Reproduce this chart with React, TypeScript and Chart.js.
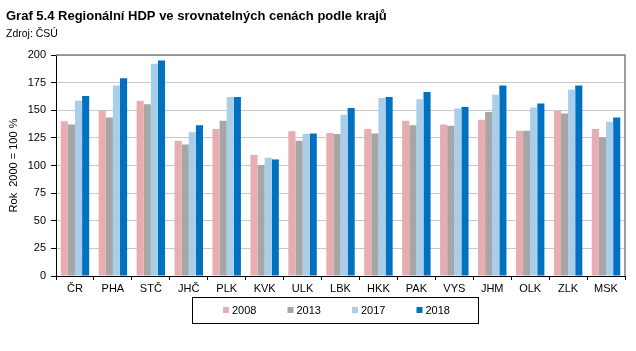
import React, { useEffect, useRef } from "react";
import { Chart, registerables } from "chart.js";

Chart.register(...registerables);

const categories = ["ČR", "PHA", "STČ", "JHČ", "PLK", "KVK", "ULK", "LBK", "HKK", "PAK", "VYS", "JHM", "OLK", "ZLK", "MSK"];
const seriesLabels = ["2008", "2013", "2017", "2018"];
const values2008 = [140, 149.5, 158.5, 122.5, 133, 109.5, 131, 129.5, 133, 140.5, 137, 141.5, 131.5, 149.5, 133];
const values2013 = [137, 143.5, 155.5, 119, 140.5, 100.5, 122.5, 128.5, 129, 136.5, 136, 148.5, 131.5, 147, 125.5];
const values2017 = [158.5, 172.5, 192, 130, 162, 107, 128.5, 146, 161, 160, 151.5, 164, 152.5, 168.5, 139.5];
const values2018 = [163, 179, 195, 136.5, 162, 105.5, 129, 152, 162, 166.5, 153, 172.5, 156, 172.5, 143.5];
const colors = ["#E6AEB1", "#A6A6A6", "#A9CEEA", "#0070C0"];
const yTicks = [0, 25, 50, 75, 100, 125, 150, 175, 200];
const titleText = "Graf 5.4 Regionální HDP ve srovnatelných cenách podle krajů";
const sourceText = "Zdroj: ČSÚ";
const yAxisTitle = "Rok  2000 = 100 %";

const FONT = "'Liberation Sans', Arial, sans-serif";

const decorPlugin = {
  id: "decor",
  afterDraw(chart: any) {
    const ctx = chart.ctx;
    const ca = chart.chartArea;
    ctx.save();
    // plot border top & right
    ctx.strokeStyle = "#808080";
    ctx.lineWidth = 1.5;
    ctx.beginPath();
    ctx.moveTo(ca.left, ca.top);
    ctx.lineTo(ca.right, ca.top);
    ctx.lineTo(ca.right, ca.bottom);
    ctx.stroke();
    // titles
    ctx.fillStyle = "#000";
    ctx.textBaseline = "alphabetic";
    ctx.textAlign = "left";
    ctx.font = "bold 13px " + FONT;
    ctx.fillText(titleText, 6, 20);
    ctx.font = "10.5px " + FONT;
    ctx.fillText(sourceText, 6, 37);
    // legend
    const bx = 192, by = 297, bw = 286, bh = 26;
    ctx.strokeStyle = "#000";
    ctx.lineWidth = 1;
    ctx.strokeRect(bx + 0.5, by + 0.5, bw, bh);
    const startX = 223;
    const step = 64.5;
    ctx.font = "11px " + FONT;
    ctx.textBaseline = "middle";
    chart.data.datasets.forEach((ds: any, i: number) => {
      const x = startX + i * step;
      ctx.fillStyle = ds.backgroundColor;
      ctx.fillRect(x, by + 10, 6, 6);
      ctx.fillStyle = "#000";
      ctx.fillText(ds.label, x + 9, by + 13.5);
    });
    ctx.restore();
  },
};

export default function App() {
  const ref = useRef<HTMLCanvasElement | null>(null);
  useEffect(() => {
    document.body.style.margin = "0";
    const allSeries = [values2008, values2013, values2017, values2018];
    const chart = new Chart(ref.current as HTMLCanvasElement, {
      type: "bar",
      data: {
        labels: categories,
        datasets: allSeries.map((vals, i) => ({
          label: seriesLabels[i],
          data: vals,
          backgroundColor: colors[i],
          borderWidth: 0,
          categoryPercentage: 0.75,
          barPercentage: 1.0,
        })),
      },
      options: {
        animation: false,
        responsive: false,
        devicePixelRatio: 1,
        layout: { padding: { top: 55, right: 11, bottom: 56, left: 0 } },
        plugins: {
          legend: { display: false },
          tooltip: { enabled: false },
          title: { display: false },
        },
        scales: {
          x: {
            offset: true,
            grid: {
              offset: true,
              drawOnChartArea: false,
              tickColor: "#000",
              tickLength: 4,
            },
            border: { color: "#000", width: 1 },
            ticks: { color: "#000", font: { family: FONT, size: 11 }, padding: 2, maxRotation: 0 },
            afterFit: (s: any) => { s.height = 19; },
          },
          y: {
            min: 0,
            max: 200,
            afterBuildTicks: (s: any) => { s.ticks = yTicks.map((v) => ({ value: v })); },
            grid: {
              color: "#C8C8C8",
              tickColor: "#000",
              tickLength: 5,
              lineWidth: 1,
            },
            border: { color: "#000", width: 1 },
            ticks: { color: "#000", font: { family: FONT, size: 11 }, padding: 5 },
            title: {
              display: true,
              text: yAxisTitle,
              color: "#000",
              font: { family: FONT, size: 11 },
              padding: { top: 7, bottom: 0 },
            },
            afterFit: (s: any) => { s.width = 56; },
          },
        },
      },
      plugins: [decorPlugin],
    });
    return () => chart.destroy();
  }, []);
  return (
    <div style={{ width: 636, height: 351 }}>
      <canvas ref={ref} width={636} height={351} style={{ display: "block" }} />
    </div>
  );
}
